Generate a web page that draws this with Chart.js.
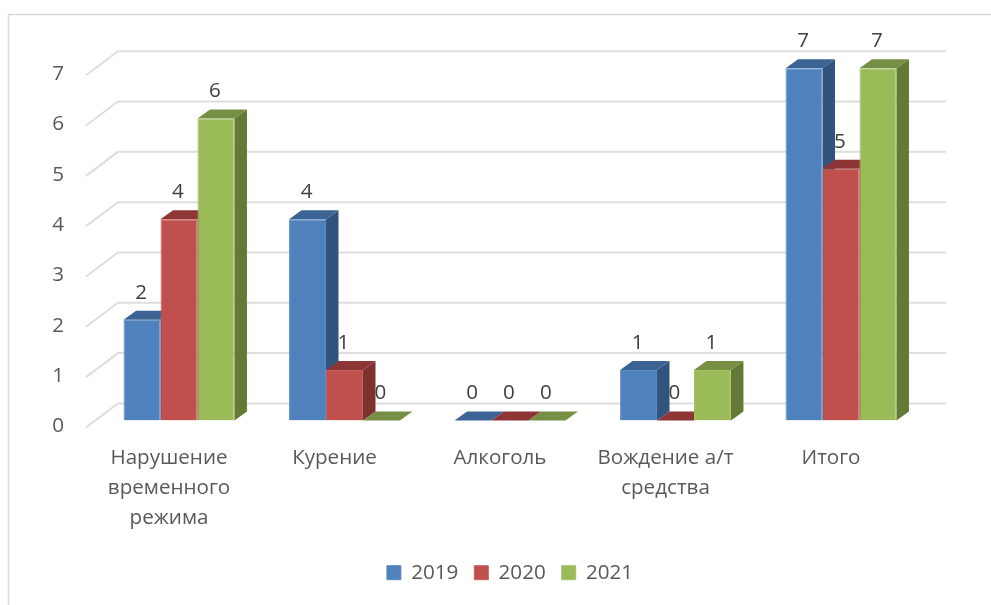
<!DOCTYPE html>
<html lang="ru">
<head>
    <meta charset="UTF-8">
    <title>Нарушения</title>
    <script src="https://cdn.jsdelivr.net/npm/chart.js@4/dist/chart.umd.min.js"></script>
    <style>
        body { margin: 0; background: #fff; }
        canvas { display: block; }
    </style>
</head>
<body>
    <canvas id="barChart" width="991" height="605"></canvas>

    <script>
        const categories = [
            ['Нарушение', 'временного', 'режима'],
            'Курение',
            'Алкоголь',
            ['Вождение а/т', 'средства'],
            'Итого'
        ];
        const seriesNames = ['2019', '2020', '2021'];
        const values2019 = [2, 4, 0, 1, 7];
        const values2020 = [4, 1, 0, 0, 5];
        const values2021 = [6, 0, 0, 1, 7];

        const FONT = '"Open Sans", sans-serif';
        // bar faces: front, top, side
        const faces = [
            { front: '#4f81bd', edge: '#5c8bc3', top: '#3b6494', side: '#31547e' },
            { front: '#c0504d', edge: '#c75f5c', top: '#8e3636', side: '#7f3130' },
            { front: '#9bbb59', edge: '#a4c266', top: '#778f44', side: '#647934' }
        ];
        // fake 3D depth of the bars
        const depthX = 12.5, depthY = 9;

        function poly(ctx, pts, color) {
            ctx.fillStyle = color;
            ctx.beginPath();
            pts.forEach((p, i) => i ? ctx.lineTo(p[0], p[1]) : ctx.moveTo(p[0], p[1]));
            ctx.closePath();
            ctx.fill();
        }

        const frame3d = {
            id: 'frame3d',
            beforeDraw(chart) {
                const ctx = chart.ctx;
                ctx.save();
                ctx.strokeStyle = '#d9d9d9';
                ctx.lineWidth = 1.5;
                ctx.beginPath();
                ctx.moveTo(8.5, chart.height);
                ctx.lineTo(8.5, 14.5);
                ctx.lineTo(chart.width, 14.5);
                ctx.stroke();
                ctx.restore();
            },
            beforeDatasetsDraw(chart) {
                const ctx = chart.ctx;
                const y = chart.scales.y;
                ctx.save();
                // walls: front end of the grid line, then along the back
                ctx.strokeStyle = '#dedede';
                ctx.lineWidth = 2;
                y.ticks.forEach(t => {
                    const py = y.getPixelForValue(t.value);
                    ctx.beginPath();
                    ctx.moveTo(86, py + 7);
                    ctx.lineTo(118, py - 17);
                    ctx.lineTo(946, py - 17);
                    ctx.stroke();
                });
                // sides and tops, left to right so the next bar laps the previous one
                chart.data.datasets.forEach((ds, d) => {
                    chart.getDatasetMeta(d).data.forEach(bar => {
                        const l = bar.x - bar.width / 2, r = bar.x + bar.width / 2;
                        const c = faces[d];
                        poly(ctx, [[r, bar.y], [r + depthX, bar.y - depthY], [r + depthX, bar.base - depthY], [r, bar.base]], c.side);
                        poly(ctx, [[l, bar.y], [l + depthX, bar.y - depthY], [r + depthX, bar.y - depthY], [r, bar.y]], c.top);
                    });
                });
                ctx.restore();
            },
            afterDatasetsDraw(chart) {
                const ctx = chart.ctx;
                ctx.save();
                ctx.fillStyle = '#404040';
                ctx.font = '20.6px ' + FONT;
                ctx.textAlign = 'center';
                ctx.textBaseline = 'middle';
                chart.data.datasets.forEach((ds, d) => {
                    chart.getDatasetMeta(d).data.forEach((bar, i) => {
                        ctx.fillText(ds.data[i], bar.x - 1, bar.y - 27);
                    });
                });
                ctx.restore();
            }
        };

        new Chart(document.getElementById('barChart').getContext('2d'), {
            type: 'bar',
            data: {
                labels: categories,
                datasets: [values2019, values2020, values2021].map((v, d) => ({
                    label: seriesNames[d],
                    data: v,
                    backgroundColor: faces[d].front,
                    borderColor: faces[d].edge,
                    borderWidth: 1
                }))
            },
            options: {
                responsive: false,
                animation: false,
                datasets: { bar: { categoryPercentage: 0.67, barPercentage: 1 } },
                layout: {
                    autoPadding: false,
                    padding: { left: 96.25, right: 67.25, top: 68.2, bottom: 12 }
                },
                plugins: {
                    tooltip: { enabled: false },
                    legend: {
                        position: 'bottom',
                        labels: {
                            boxWidth: 14,
                            boxHeight: 14,
                            padding: 16,
                            color: '#595959',
                            font: { family: FONT, size: 20.6 }
                        }
                    }
                },
                scales: {
                    x: {
                        border: { display: false },
                        grid: { display: false, drawTicks: false },
                        ticks: {
                            autoSkip: false,
                            maxRotation: 0,
                            padding: 23,
                            labelOffset: -10,
                            color: '#595959',
                            font: { family: FONT, size: 20.6, lineHeight: 1.456 }
                        },
                        afterFit(scale) { scale.height = 126; }
                    },
                    y: {
                        min: 0,
                        max: 7,
                        border: { display: false },
                        grid: { display: false, drawTicks: false },
                        ticks: {
                            stepSize: 1,
                            mirror: true, // the axis has no width, labels would get clipped otherwise
                            padding: -44,
                            labelOffset: 6,
                            color: '#595959',
                            font: { family: FONT, size: 20.6 }
                        },
                        afterFit(scale) { scale.width = 0; }
                    }
                }
            },
            plugins: [frame3d]
        });
    </script>
</body>
</html>
